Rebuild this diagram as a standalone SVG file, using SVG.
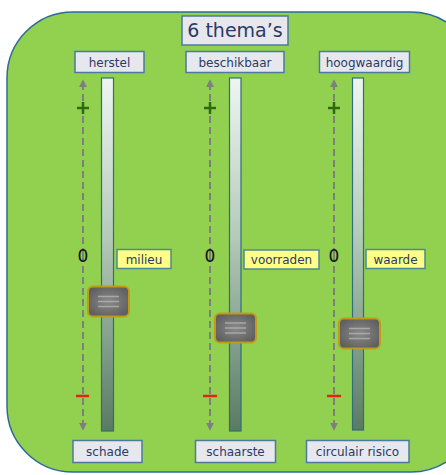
<svg xmlns="http://www.w3.org/2000/svg" width="446" height="475" viewBox="0 0 446 475">
  <style>
    .lbl rect { fill: #e7e8ee; stroke: #4b7a9c; stroke-width: 1.5; }
    .lbl text { font-family: "DejaVu Sans", Verdana, sans-serif; font-size: 12px; fill: #2b3a66; text-anchor: middle; }
    .tag rect { fill: #ffff88; stroke: #4a8a96; stroke-width: 1.5; }
    .tag text { font-family: "DejaVu Sans", Verdana, sans-serif; font-size: 12px; fill: #2b3a66; text-anchor: middle; }
    .track { fill: url(#trackGrad); stroke: #2f6f7c; stroke-width: 1.2; }
    .axis { stroke: #7f7f7f; stroke-width: 2; stroke-dasharray: 7 4; fill: none; }
    .plus { stroke: #2d6a12; stroke-width: 2.5; }
    .minus { stroke: #e8201a; stroke-width: 2.5; }
    .zero { font-family: "DejaVu Sans", Verdana, sans-serif; font-size: 17px; fill: #111; text-anchor: middle; }
    .knob { fill: url(#knobGrad); stroke: #c09a18; stroke-width: 2; }
    .grip { stroke: #a8a8a8; stroke-width: 1.5; }
  </style>
  <defs>
    <linearGradient id="trackGrad" x1="0" y1="0" x2="0" y2="1">
      <stop offset="0" stop-color="#eef5f1"/>
      <stop offset="0.45" stop-color="#b3cbb9"/>
      <stop offset="1" stop-color="#5a7b62"/>
    </linearGradient>
    <radialGradient id="knobGrad" cx="0.5" cy="0.5" r="0.7">
      <stop offset="0" stop-color="#8a8a8a"/>
      <stop offset="1" stop-color="#555"/>
    </radialGradient>
    <marker id="head" viewBox="0 0 10 10" refX="9" refY="5" markerWidth="4" markerHeight="4" orient="auto" markerUnits="strokeWidth">
      <path d="M0,0 L10,5 L0,10 z" fill="#7f7f7f"/>
    </marker>
  </defs>

  <!-- panel -->
  <rect x="7" y="12" width="470" height="460" rx="66" ry="66" fill="#92d050" stroke="#2e6a9a" stroke-width="1.5"/>

  <!-- title -->
  <g id="title" class="lbl">
    <rect x="182" y="16" width="106" height="29"/>
    <text x="235" y="37" style="font-size:19px">6 thema’s</text>
  </g>

  <!-- connectors: dashed scale arrows -->
  <g id="connectors">
    <line class="axis" x1="83" y1="255" x2="83" y2="80" marker-end="url(#head)"/>
    <line class="axis" x1="83" y1="255" x2="83" y2="430" marker-end="url(#head)"/>
    <line class="axis" x1="210" y1="255" x2="210" y2="80" marker-end="url(#head)"/>
    <line class="axis" x1="210" y1="255" x2="210" y2="430" marker-end="url(#head)"/>
    <line class="axis" x1="334" y1="255" x2="334" y2="80" marker-end="url(#head)"/>
    <line class="axis" x1="334" y1="255" x2="334" y2="430" marker-end="url(#head)"/>
  </g>

  <!-- slider 1 -->
  <g id="slider1">
    <rect class="track" x="101.5" y="78" width="12" height="353"/>
    <line class="plus" x1="77" y1="108" x2="89" y2="108"/>
    <line class="plus" x1="83" y1="102" x2="83" y2="114"/>
    <line class="minus" x1="76" y1="396" x2="89" y2="396"/>
    <text class="zero" x="83" y="262">0</text>
    <rect class="knob" x="88" y="286.5" width="41" height="30" rx="5"/>
    <line class="grip" x1="98" y1="296.5" x2="119" y2="296.5"/>
    <line class="grip" x1="98" y1="301.5" x2="119" y2="301.5"/>
    <line class="grip" x1="98" y1="306.5" x2="119" y2="306.5"/>
  </g>
  <g id="herstel" class="lbl"><rect x="75" y="51.5" width="69" height="21"/><text x="109.5" y="66.5">herstel</text></g>
  <g id="schade" class="lbl"><rect x="73" y="440.5" width="69" height="22"/><text x="107.5" y="456">schade</text></g>
  <g id="milieu" class="tag"><rect x="117" y="249.5" width="54" height="19"/><text x="144" y="263.5">milieu</text></g>

  <!-- slider 2 -->
  <g id="slider2">
    <rect class="track" x="229.5" y="78" width="11.5" height="353"/>
    <line class="plus" x1="204" y1="108" x2="216" y2="108"/>
    <line class="plus" x1="210" y1="102" x2="210" y2="114"/>
    <line class="minus" x1="203" y1="396" x2="217" y2="396"/>
    <text class="zero" x="210" y="262">0</text>
    <rect class="knob" x="215" y="313.5" width="41" height="29" rx="5"/>
    <line class="grip" x1="225" y1="323" x2="246" y2="323"/>
    <line class="grip" x1="225" y1="328" x2="246" y2="328"/>
    <line class="grip" x1="225" y1="333" x2="246" y2="333"/>
  </g>
  <g id="beschikbaar" class="lbl"><rect x="186" y="51.5" width="98" height="21"/><text x="235" y="66.5">beschikbaar</text></g>
  <g id="schaarste" class="lbl"><rect x="195.5" y="440.5" width="80" height="22"/><text x="235.5" y="456">schaarste</text></g>
  <g id="voorraden" class="tag"><rect x="244" y="250" width="75" height="19"/><text x="281.5" y="264">voorraden</text></g>

  <!-- slider 3 -->
  <g id="slider3">
    <rect class="track" x="352.5" y="78" width="11" height="352"/>
    <line class="plus" x1="328" y1="108" x2="340" y2="108"/>
    <line class="plus" x1="334" y1="102" x2="334" y2="114"/>
    <line class="minus" x1="327" y1="396" x2="341" y2="396"/>
    <text class="zero" x="334" y="262">0</text>
    <rect class="knob" x="339" y="318.5" width="41" height="30" rx="5"/>
    <line class="grip" x1="349" y1="328.5" x2="370" y2="328.5"/>
    <line class="grip" x1="349" y1="333.5" x2="370" y2="333.5"/>
    <line class="grip" x1="349" y1="338.5" x2="370" y2="338.5"/>
  </g>
  <g id="hoogwaardig" class="lbl"><rect x="319.5" y="51.5" width="90" height="21"/><text x="364.5" y="66.5">hoogwaardig</text></g>
  <g id="circulair-risico" class="lbl"><rect x="306.5" y="440.5" width="102.5" height="22"/><text x="357.5" y="456">circulair risico</text></g>
  <g id="waarde" class="tag"><rect x="366" y="249.5" width="59" height="19"/><text x="395.5" y="263.5">waarde</text></g>
</svg>
